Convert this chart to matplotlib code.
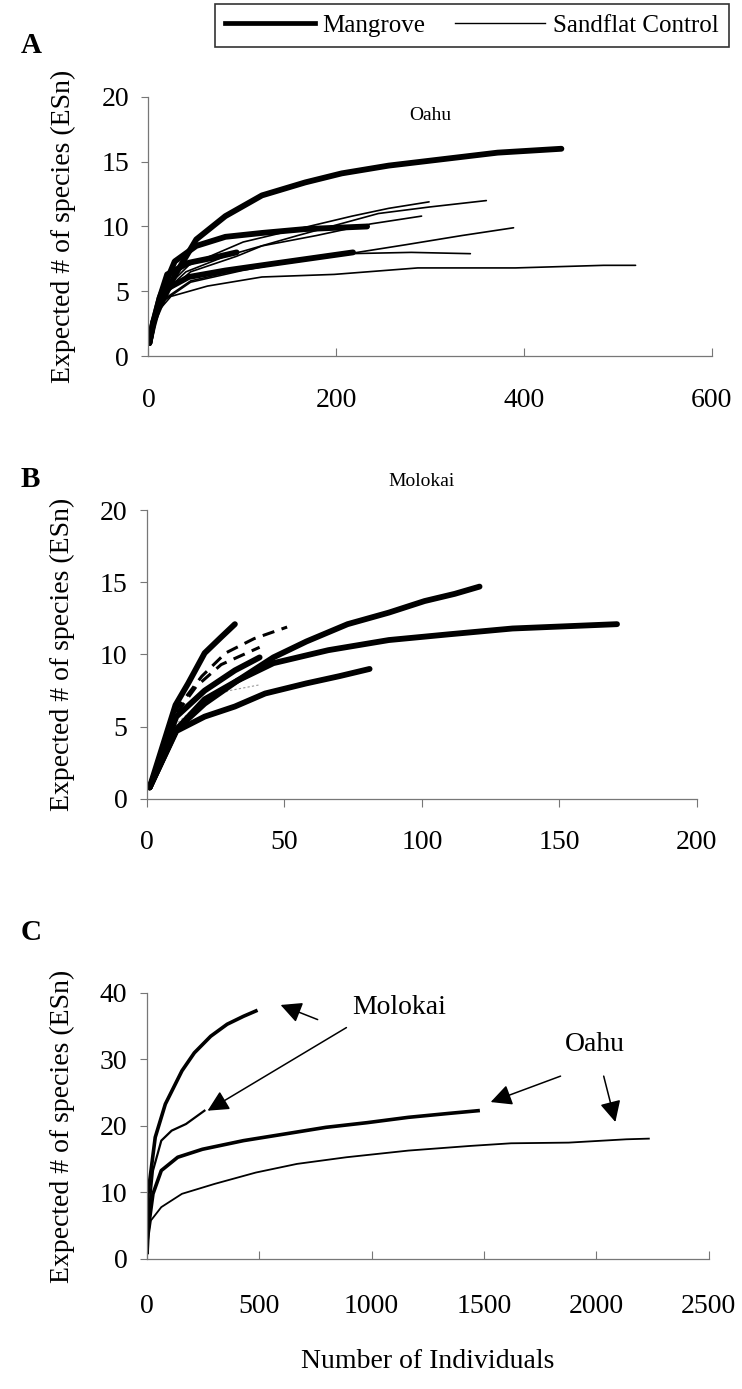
import matplotlib
matplotlib.use("Agg")
import matplotlib.pyplot as plt
from matplotlib.lines import Line2D

plt.rcParams['font.family'] = ['Liberation Serif', 'DejaVu Serif']

# ---- Panel A: Oahu rarefaction curves ----
a_mangrove_x = [
    [1, 5, 12, 28, 51, 82, 121, 167, 206, 256, 314, 372, 440],
    [1, 5, 12, 28, 51, 82, 121, 167, 233],
    [1, 5, 12, 20, 43, 70, 94],
    [1, 5, 12, 20, 43, 82, 140, 179, 218],
]
a_mangrove_y = [
    [1.0, 2.6, 3.8, 6.2, 9.0, 10.8, 12.4, 13.4, 14.1, 14.7, 15.2, 15.7, 16.0],
    [1.0, 2.6, 4.5, 7.3, 8.5, 9.2, 9.5, 9.8, 10.0],
    [1.0, 2.5, 4.5, 6.3, 7.2, 7.6, 8.0],
    [1.0, 2.3, 4.2, 5.2, 6.1, 6.6, 7.2, 7.6, 8.0],
]
a_sandflat_x = [
    [1, 5, 15, 43, 101, 159, 217, 256, 299],
    [1, 5, 15, 40, 82, 159, 245, 299, 360],
    [1, 5, 15, 45, 94, 121, 179, 237, 291],
    [1, 5, 15, 45, 100, 160, 214, 275, 334, 389],
    [1, 5, 15, 45, 100, 160, 214, 280, 343],
    [1, 5, 12, 24, 63, 121, 198, 287, 391, 485, 519],
]
a_sandflat_y = [
    [1.0, 2.8, 5.0, 7.0, 8.8, 9.8, 10.8, 11.4, 11.9],
    [1.0, 2.7, 4.8, 6.5, 7.7, 9.3, 11.0, 11.5, 12.0],
    [1.0, 2.6, 4.6, 6.5, 7.7, 8.5, 9.3, 10.2, 10.8],
    [1.0, 2.4, 4.3, 5.8, 6.7, 7.3, 7.9, 8.6, 9.3, 9.9],
    [1.0, 2.4, 4.2, 5.7, 6.6, 7.4, 7.9, 8.0, 7.9],
    [1.0, 2.2, 3.6, 4.6, 5.4, 6.1, 6.3, 6.8, 6.8, 7.0, 7.0],
]

# ---- Panel B: Molokai rarefaction curves ----
b_mangrove_x = [
    [1, 10.4, 15, 21, 27, 32],
    [1, 10.7, 21, 33, 46, 58, 73, 88, 101, 112, 121],
    [1, 10.7, 21, 33, 46, 66, 88, 110, 133, 171],
    [1, 10.7, 21, 32, 43, 58, 70, 81],
    [1, 10.7, 21, 32, 41],
]
b_mangrove_y = [
    [0.8, 6.5, 8.0, 10.1, 11.2, 12.1],
    [0.8, 4.8, 6.9, 8.2, 9.8, 10.9, 12.1, 12.9, 13.7, 14.2, 14.7],
    [0.8, 4.8, 6.6, 8.2, 9.4, 10.3, 11.0, 11.4, 11.8, 12.1],
    [0.8, 4.7, 5.7, 6.4, 7.3, 8.0, 8.5, 9.0],
    [0.8, 5.7, 7.5, 8.9, 9.8],
]
b_dashed_x = [
    [1, 10.7, 20, 28.6, 39, 51],
    [1, 10.7, 18, 27, 41],
]
b_dashed_y = [
    [0.8, 6.2, 8.5, 10.1, 11.1, 11.9],
    [0.8, 5.9, 7.8, 9.3, 10.5],
]
b_grey_x = [1, 10.7, 21, 30, 41]
b_grey_y = [0.8, 5.2, 6.9, 7.5, 7.9]

# ---- Panel C: pooled curves per island ----
c_molokai_mangrove_x = [1, 5, 37, 82, 119, 156, 211, 284, 357, 430, 485]
c_molokai_mangrove_y = [1.0, 9.8, 18.3, 23.3, 25.8, 28.3, 31.0, 33.5, 35.3, 36.5, 37.3]
c_molokai_sandflat_x = [1, 5, 27, 64, 110, 174, 256]
c_molokai_sandflat_y = [1.0, 5.8, 13.3, 17.8, 19.3, 20.3, 22.3]
c_oahu_mangrove_x = [1, 5, 27, 64, 137, 247, 430, 614, 797, 980, 1163, 1346, 1474]
c_oahu_mangrove_y = [1.0, 4.3, 9.8, 13.3, 15.3, 16.5, 17.8, 18.8, 19.8, 20.5, 21.3, 21.9, 22.3]
c_oahu_sandflat_x = [1, 5, 18, 64, 156, 302, 485, 668, 888, 1163, 1438, 1621, 1877, 2134, 2234]
c_oahu_sandflat_y = [1.0, 2.8, 5.8, 7.8, 9.8, 11.3, 13.0, 14.3, 15.3, 16.3, 17.0, 17.4, 17.5, 18.0, 18.1]

TICK_FS = 20
SPINE_C = '#777777'


def style_axes(ax, xmax, ymax, xstep, ystep, xtick_dir, xpad):
    ax.set_xlim(0, xmax)
    ax.set_ylim(0, ymax)
    ax.set_xticks(range(0, xmax + 1, xstep))
    ax.set_yticks(range(0, ymax + 1, ystep))
    for s in ['top', 'right']:
        ax.spines[s].set_visible(False)
    for s in ['left', 'bottom']:
        ax.spines[s].set_color(SPINE_C)
        ax.spines[s].set_linewidth(0.9)
    ax.tick_params(axis='y', direction='out', length=5, color=SPINE_C,
                   labelsize=TICK_FS, pad=9)
    ax.tick_params(axis='x', direction=xtick_dir, length=6, color=SPINE_C,
                   labelsize=TICK_FS, pad=xpad)
    ax.set_ylabel('Expected # of species (ESn)', fontsize=TICK_FS, labelpad=18)
    ax.patch.set_visible(False)


fig = plt.figure(figsize=(7.42, 13.89), dpi=100)

# Panel A
axA = fig.add_axes([0.200, 0.7437, 0.759, 0.1865])
for xs, ys in zip(a_sandflat_x, a_sandflat_y):
    axA.plot(xs, ys, color='black', lw=1.2, solid_capstyle='round')
for xs, ys in zip(a_mangrove_x, a_mangrove_y):
    axA.plot(xs, ys, color='black', lw=4.2, solid_capstyle='round')
style_axes(axA, 600, 20, 200, 5, 'in', 23)
axA.text(0.5, 0.93, 'Oahu', transform=axA.transAxes, ha='center', va='center', fontsize=14)

# Panel B
axB = fig.add_axes([0.198, 0.4248, 0.741, 0.208])
axB.plot(b_grey_x, b_grey_y, color='#999999', lw=0.8, ls=(0, (2, 2)))
for xs, ys in zip(b_dashed_x, b_dashed_y):
    axB.plot(xs, ys, color='black', lw=2.2, ls=(0, (4, 2.5)))
for xs, ys in zip(b_mangrove_x, b_mangrove_y):
    axB.plot(xs, ys, color='black', lw=4.2, solid_capstyle='round')
style_axes(axB, 200, 20, 50, 5, 'out', 16)
axB.text(0.5, 1.1, 'Molokai', transform=axB.transAxes, ha='center', va='center', fontsize=14)

# Panel C
axC = fig.add_axes([0.198, 0.0936, 0.757, 0.1915])
axC.plot(c_oahu_sandflat_x, c_oahu_sandflat_y, color='black', lw=1.3)
axC.plot(c_molokai_sandflat_x, c_molokai_sandflat_y, color='black', lw=1.6)
axC.plot(c_oahu_mangrove_x, c_oahu_mangrove_y, color='black', lw=2.6)
axC.plot(c_molokai_mangrove_x, c_molokai_mangrove_y, color='black', lw=2.6)
style_axes(axC, 2500, 40, 500, 10, 'in', 25)
axC.set_xlabel('Number of Individuals', fontsize=TICK_FS, labelpad=22)

arrow = dict(arrowstyle='-|>', color='black', lw=1.1, mutation_scale=32,
             shrinkA=0, shrinkB=0)
axC.text(1121, 37.8, 'Molokai', ha='center', va='center', fontsize=TICK_FS)
axC.annotate('', xy=(595, 38.2), xytext=(760, 36.0), arrowprops=arrow)
axC.annotate('', xy=(270, 22.3), xytext=(888, 34.8), arrowprops=arrow)
axC.text(1996, 32.3, 'Oahu', ha='center', va='center', fontsize=TICK_FS)
axC.annotate('', xy=(1530, 23.6), xytext=(1841, 27.5), arrowprops=arrow)
axC.annotate('', xy=(2085, 20.6), xytext=(2033, 27.5), arrowprops=arrow)

# Panel letters
fig.text(0.028, 0.967, 'A', fontsize=21, fontweight='bold', va='center')
fig.text(0.028, 0.655, 'B', fontsize=21, fontweight='bold', va='center')
fig.text(0.028, 0.329, 'C', fontsize=21, fontweight='bold', va='center')

# Shared legend
handles = [Line2D([], [], color='black', lw=3.4),
           Line2D([], [], color='black', lw=1.0)]
leg = fig.legend(handles, ['Mangrove', 'Sandflat Control'], ncol=2,
                 loc='upper right', bbox_to_anchor=(0.982, 0.997),
                 fontsize=18, handlelength=3.6, columnspacing=1.2,
                 handletextpad=0.3, frameon=True, fancybox=False,
                 borderpad=0.4, borderaxespad=0.0)
leg.get_frame().set_edgecolor('black')
leg.get_frame().set_linewidth(1.2)

fig.savefig('out.png', dpi=100, facecolor='white')
